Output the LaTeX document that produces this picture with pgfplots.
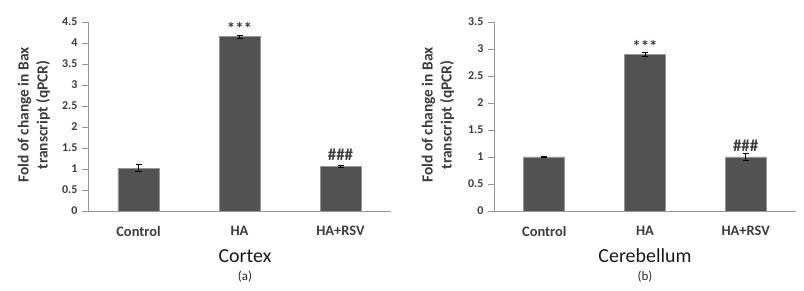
\documentclass[border=0pt]{standalone}
\usepackage{pgfplots}
\pgfplotsset{compat=1.18}
\usepackage{fontspec}
\setmainfont{Carlito}
\definecolor{barfill}{RGB}{82,82,82}
\definecolor{baredge}{RGB}{150,150,150}
\definecolor{axgray}{RGB}{150,150,150}
\definecolor{txt}{RGB}{60,60,60}
\pgfplotsset{
  bax/.style={
    scale only axis,
    width=303bp, height=189bp,
    anchor=origin,
    axis x line=bottom, axis y line=left,
    axis line style={axgray, -},
    xmin=0, xmax=3, ymin=0,
    xtick={0.5,1.5,2.5},
    xticklabels={Control,HA,HA+RSV},
    extra x ticks={0,1,2,3},
    extra x tick labels={},
    extra x tick style={major tick length=6bp, tick style={axgray}, tick align=outside},
    x tick style={draw=none},
    y tick style={axgray},
    tick align=outside,
    major tick length=6bp,
    xticklabel style={font=\fontsize{14.5}{16}\selectfont\bfseries, text=txt, yshift=-6bp},
    yticklabel style={font=\fontsize{12}{14}\selectfont\bfseries, text=txt, xshift=-1bp},
    /pgf/number format/assume math mode=true,
    ybar, bar width=41bp,
    error bars/y dir=both, error bars/y explicit,
    error bars/error bar style={black, line width=0.8pt},
    error bars/error mark options={rotate=90, mark size=3bp, line width=0.8pt},
    nodes near coords,
    point meta=explicit symbolic,
    every node near coord/.append style={font=\fontsize{17}{19}\selectfont\bfseries, text=txt, yshift=2bp},
  }
}
\newcommand{\stars}{\raisebox{-4bp}[0pt][0pt]{***}}
\begin{document}
\begin{tikzpicture}
\path (0bp,0bp) rectangle (804bp,291bp);
% Left panel: Cortex
\begin{axis}[bax, at={(88bp,80bp)}, ymax=4.5, ytick={0,0.5,...,4.5}]
\addplot[fill=barfill, draw=baredge, line width=1pt]
  coordinates {(0.5,1.02) +- (0,0.08) [{}] (1.5,4.15) +- (0,0.03) [{\stars}] (2.5,1.07) +- (0,0.02) [{\#\#\#}]};
\end{axis}
% Right panel: Cerebellum
\begin{axis}[bax, at={(494bp,80bp)}, width=302bp, ymax=3.5, ytick={0,0.5,...,3.5}]
\addplot[fill=barfill, draw=baredge, line width=1pt]
  coordinates {(0.5,1.0) +- (0,0.015) [{}] (1.5,2.9) +- (0,0.03) [{\stars}] (2.5,1.0) +- (0,0.07) [{\#\#\#}]};
\end{axis}
% y labels
\node[rotate=90, align=center, font=\fontsize{15.5}{19}\selectfont\bfseries, text=txt] at (34bp,176bp) {Fold of change in Bax\\transcript (qPCR)};
\node[rotate=90, align=center, font=\fontsize{15.5}{19}\selectfont\bfseries, text=txt] at (438bp,176bp) {Fold of change in Bax\\transcript (qPCR)};
% titles
\node[font=\fontsize{20}{22}\selectfont, text=black!90] at (245bp,35bp) {Cortex};
\node[font=\fontsize{13}{15}\selectfont, text=black!85] at (245bp,14bp) {(a)};
\node[font=\fontsize{20}{22}\selectfont, text=black!90] at (645bp,35bp) {Cerebellum};
\node[font=\fontsize{13}{15}\selectfont, text=black!85] at (645bp,14bp) {(b)};
\end{tikzpicture}
\end{document}
